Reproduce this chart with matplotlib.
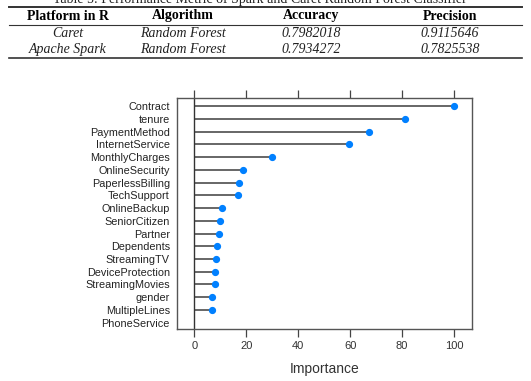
import numpy as np
import matplotlib.pyplot as plt
from matplotlib.lines import Line2D

# Table data
caption = "Table 5: Performance Metric of Spark and Caret Random Forest Classifier"
table_header = ["Platform in R", "Algorithm", "Accuracy", "Precision"]
table_rows = [["Caret", "Random Forest", "0.7982018", "0.9115646"],
              ["Apache Spark", "Random Forest", "0.7934272", "0.7825538"]]

# Variable importance data (top to bottom)
features = ["Contract", "tenure", "PaymentMethod", "InternetService", "MonthlyCharges",
            "OnlineSecurity", "PaperlessBilling", "TechSupport", "OnlineBackup",
            "SeniorCitizen", "Partner", "Dependents", "StreamingTV", "DeviceProtection",
            "StreamingMovies", "gender", "MultipleLines", "PhoneService"]
importance = [100, 81.2, 67.4, 59.6, 30.0, 18.6, 17.0, 16.8, 10.5, 9.9, 9.6, 8.6,
              8.2, 8.1, 8.0, 6.9, 6.7, np.nan]
xticks = [0, 20, 40, 60, 80, 100]

W, H = 531, 381
fig = plt.figure(figsize=(W / 100, H / 100), dpi=100)

def fy(py):
    return 1 - py / H

# Table (drawn in figure coordinates); caption is partly cut off at the top edge
serif = ["Liberation Serif", "DejaVu Serif"]
fig.text(260 / W, fy(3), caption, ha="center", va="baseline", fontsize=10,
         family=serif, color="#222222")
col_x = [68, 183, 311, 450]
for x, h in zip(col_x, table_header):
    fig.text(x / W, fy(16), h, ha="center", va="center", fontsize=10,
             family=serif, fontweight="bold")
for row, py in zip(table_rows, [33.5, 49.5]):
    for x, v in zip(col_x, row):
        fig.text(x / W, fy(py), v, ha="center", va="center", fontsize=10,
                 family=serif, style="italic", color="#222222")
for py, lw in [(7, 1.4), (24.5, 0.8), (58, 1.2)]:
    fig.add_artist(Line2D([9 / W, 522 / W], [fy(py), fy(py)], color="#333333", lw=lw))

# Dot plot
ax = fig.add_axes([176.7 / W, 1 - 329.3 / H, (472.3 - 176.7) / W, (329.3 - 98.5) / H])
n = len(features)
ypos = np.arange(n, 0, -1)
vals = np.array(importance, dtype=float)
mask = ~np.isnan(vals)
ax.hlines(ypos[mask], 0, vals[mask], color="#5a5a5a", lw=1.3)
ax.axvline(0, color="#333333", lw=1.0)
ax.plot(vals[mask], ypos[mask], "o", color="#0080ff", ms=4.2, mec="#0080ff")

ax.set_xlim(-6.8, 107)
ax.set_ylim(0.48, 18.6)
ax.set_yticks(ypos)
ax.set_yticklabels(features, fontsize=7.8, family=["Liberation Sans", "DejaVu Sans"],
                   color="#222222")
ax.tick_params(axis="y", length=0, pad=5)
ax.set_xticks(xticks)
ax.set_xticklabels([str(t) for t in xticks], fontsize=8,
                   family=["Liberation Sans", "DejaVu Sans"], color="#333333")
ax.tick_params(axis="x", top=True, bottom=True, direction="out", length=5.5,
               width=0.9, color="#444444", pad=3)
ax.set_xlabel("Importance", fontsize=10, family=["Liberation Sans", "DejaVu Sans"],
              color="#333333", labelpad=8)
for s in ax.spines.values():
    s.set_color("#555555")
    s.set_linewidth(1.0)

fig.savefig("out.png", dpi=100)
